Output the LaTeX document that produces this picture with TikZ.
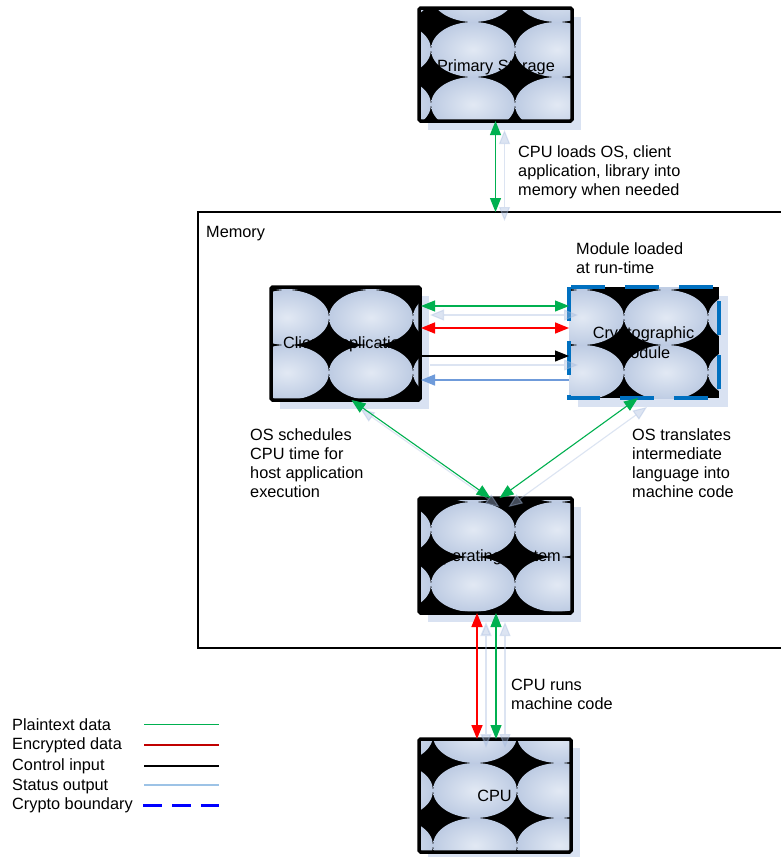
\documentclass[tikz,border=0pt]{standalone}
\usepackage{fontspec}
\setmainfont{Liberation Sans}
\usetikzlibrary{arrows.meta,calc}
\definecolor{boxshadow}{HTML}{D9E2F2}
\definecolor{ellin}{HTML}{E2E9F4}
\definecolor{ellout}{HTML}{B3C3DE}
\definecolor{pgreen}{HTML}{00B050}
\definecolor{ered}{HTML}{FF0000}
\definecolor{lgred}{HTML}{C00000}
\definecolor{sblue}{HTML}{6F9BDA}
\definecolor{lgblue}{HTML}{9DC3E6}
\definecolor{cblue}{HTML}{0070C0}
\definecolor{ashc}{HTML}{A8BDE0}
\pgfdeclareradialshading{ellsh}{\pgfpoint{0bp}{0bp}}{color(0bp)=(ellin); color(32bp)=(ellout); color(50bp)=(ellout)}
\newcommand{\tilebox}[3]{%
  \fill[boxshadow] ($(#1.north west)+(9,9)$) rectangle ($(#1.south east)+(9,9)$);
  \begin{scope}
    \clip (#1.north west) rectangle (#1.south east);
    \fill[black] (#1.north west) rectangle (#1.south east);
    \foreach \i in {-1,0,1,2}{\foreach \j in {-1,0,1,2}{%
      \shade[shading=ellsh] ($(#1.north west)+(#2+42+84*\i,#3+27.5+55*\j)$) ellipse [x radius=42, y radius=27.5];
    }}
  \end{scope}}
\newcommand{\conn}[3]{%
  \draw[#1, shad] #2 -- #3;
  \draw[#1] #2 -- #3;}
\begin{document}
\begin{tikzpicture}[x=1pt,y=-1pt,
  boxnode/.style={rectangle, inner sep=0, outer sep=0},
  frame/.style={draw=black, line width=3.5, rounded corners=1.5},
  cryptoframe/.style={draw=cblue, line width=4.5, dash pattern=on 34 off 20},
  txt/.style={font=\fontsize{16.3}{19}\selectfont, align=left, inner sep=0, anchor=base west},
  lbl/.style={font=\fontsize{16.3}{19.5}\selectfont, align=center, inner sep=0, anchor=base},
  tri/.tip={Triangle[length=14pt,width=11pt]},
  both/.style={tri-tri},
  fwd/.style={-tri},
  gline/.style={draw=pgreen, line width=1.1, both},
  rline/.style={draw=ered, line width=1.6, both},
  kline/.style={draw=black, line width=1.1, fwd},
  bline/.style={draw=sblue, line width=1.6, tri-},
  shad/.style={draw=ashc, opacity=0.4, transform canvas={shift={(9,9)}}}
]
\useasboundingbox (0,0) rectangle (781,857);
\clip (0,0) rectangle (781,857);
\fill[white] (0,0) rectangle (781,857);

% memory
\node[boxnode, draw=black, line width=2, minimum width=620, minimum height=436, anchor=north west] (mem) at (198,212) {};
\node[txt] (memt) at (206,237) {Memory};

% boxes
\node[boxnode, minimum width=153, minimum height=113] (ps) at (495.5,64.5) {};
\node[boxnode, minimum width=149, minimum height=113] (ca) at (345.5,343.5) {};
\node[boxnode, minimum width=150, minimum height=111] (cm) at (644,342.5) {};
\node[boxnode, minimum width=153, minimum height=115] (os) at (495.5,555.5) {};
\node[boxnode, minimum width=152, minimum height=113] (cpu) at (495,795.5) {};

\tilebox{ps}{12}{14}
\tilebox{ca}{58}{3}
\tilebox{cm}{55}{3}
\tilebox{os}{12}{4}
\tilebox{cpu}{14}{24}

\draw[frame] (ps.north west) rectangle (ps.south east);
\draw[frame] (ca.north west) rectangle (ca.south east);
\draw[frame] (os.north west) rectangle (os.south east);
\draw[frame] (cpu.north west) rectangle (cpu.south east);
\draw[cryptoframe] (cm.north west) rectangle (cm.south east);

% box labels
\node[lbl] (pst) at (496,71.5) {Primary Storage};
\node[lbl] (cat) at (346,348) {Client Application};
\node[lbl] (cmt) at (643.5,358) {Cryptographic\\Module};
\node[lbl] (ost) at (495.5,561.5) {Operating System};
\node[lbl] (cput) at (494.5,801) {CPU};

% connectors
\conn{gline}{(ps.south)}{(ps.south |- mem.north)}
\conn{gline}{($(ca.north east)+(1,19)$)}{($(cm.north west)+(0,19)$)}
\draw[rline] ($(ca.north east)+(1,41)$) -- ($(cm.north west)+(0,41)$);
\conn{kline}{($(ca.north east)+(1,69)$)}{($(cm.north west)+(0,69)$)}
\draw[bline] ($(ca.north east)+(1,93)$) -- ($(cm.north west)+(0,93)$);
\conn{gline}{($(ca.south)+(6,0)$)}{($(os.north)+(-5,0)$)}
\conn{gline}{($(cm.south)+(-6,0)$)}{($(os.north)+(4,0)$)}
\conn{rline}{($(os.south)+(-18.5,0)$)}{($(cpu.north)+(-18,0)$)}
\conn{gline}{($(os.south)+(0.5,0)$)}{($(cpu.north)+(1,0)$)}

% annotations (base = last line)
\node[txt] (t1) at (518,195) {CPU loads OS, client\\application, library into\\memory when needed};
\node[txt] (t2) at (576,273) {Module loaded\\at run-time};
\node[txt] (t3) at (250,497) {OS schedules\\CPU time for\\host application\\execution};
\node[txt] (t4) at (632,497) {OS translates\\intermediate\\language into\\machine code};
\node[txt] (t5) at (511,709) {CPU runs\\machine code};

% legend
\node[txt] (l1) at (12,730) {Plaintext data};
\node[txt] (l2) at (12,749.5) {Encrypted data};
\node[txt] (l3) at (12,770) {Control input};
\node[txt] (l4) at (12,790) {Status output};
\node[txt] (l5) at (12,809) {Crypto boundary};
\coordinate (g1) at (144,724.5); \coordinate (g2) at (219,724.5);
\coordinate (r1) at (144,745); \coordinate (r2) at (219,745);
\coordinate (k1) at (144,766); \coordinate (k2) at (219,766);
\coordinate (s1) at (144,785); \coordinate (s2) at (219,785);
\coordinate (c1) at (143,805); \coordinate (c2) at (219,805);
\draw[pgreen, line width=1.1] (g1) -- (g2);
\draw[lgred, line width=1.1] (r1) -- (r2);
\draw[black, line width=1.1] (k1) -- (k2);
\draw[lgblue, line width=2] (s1) -- (s2);
\draw[blue, line width=3, dash pattern=on 19 off 10] (c1) -- (c2);
\end{tikzpicture}
\end{document}
